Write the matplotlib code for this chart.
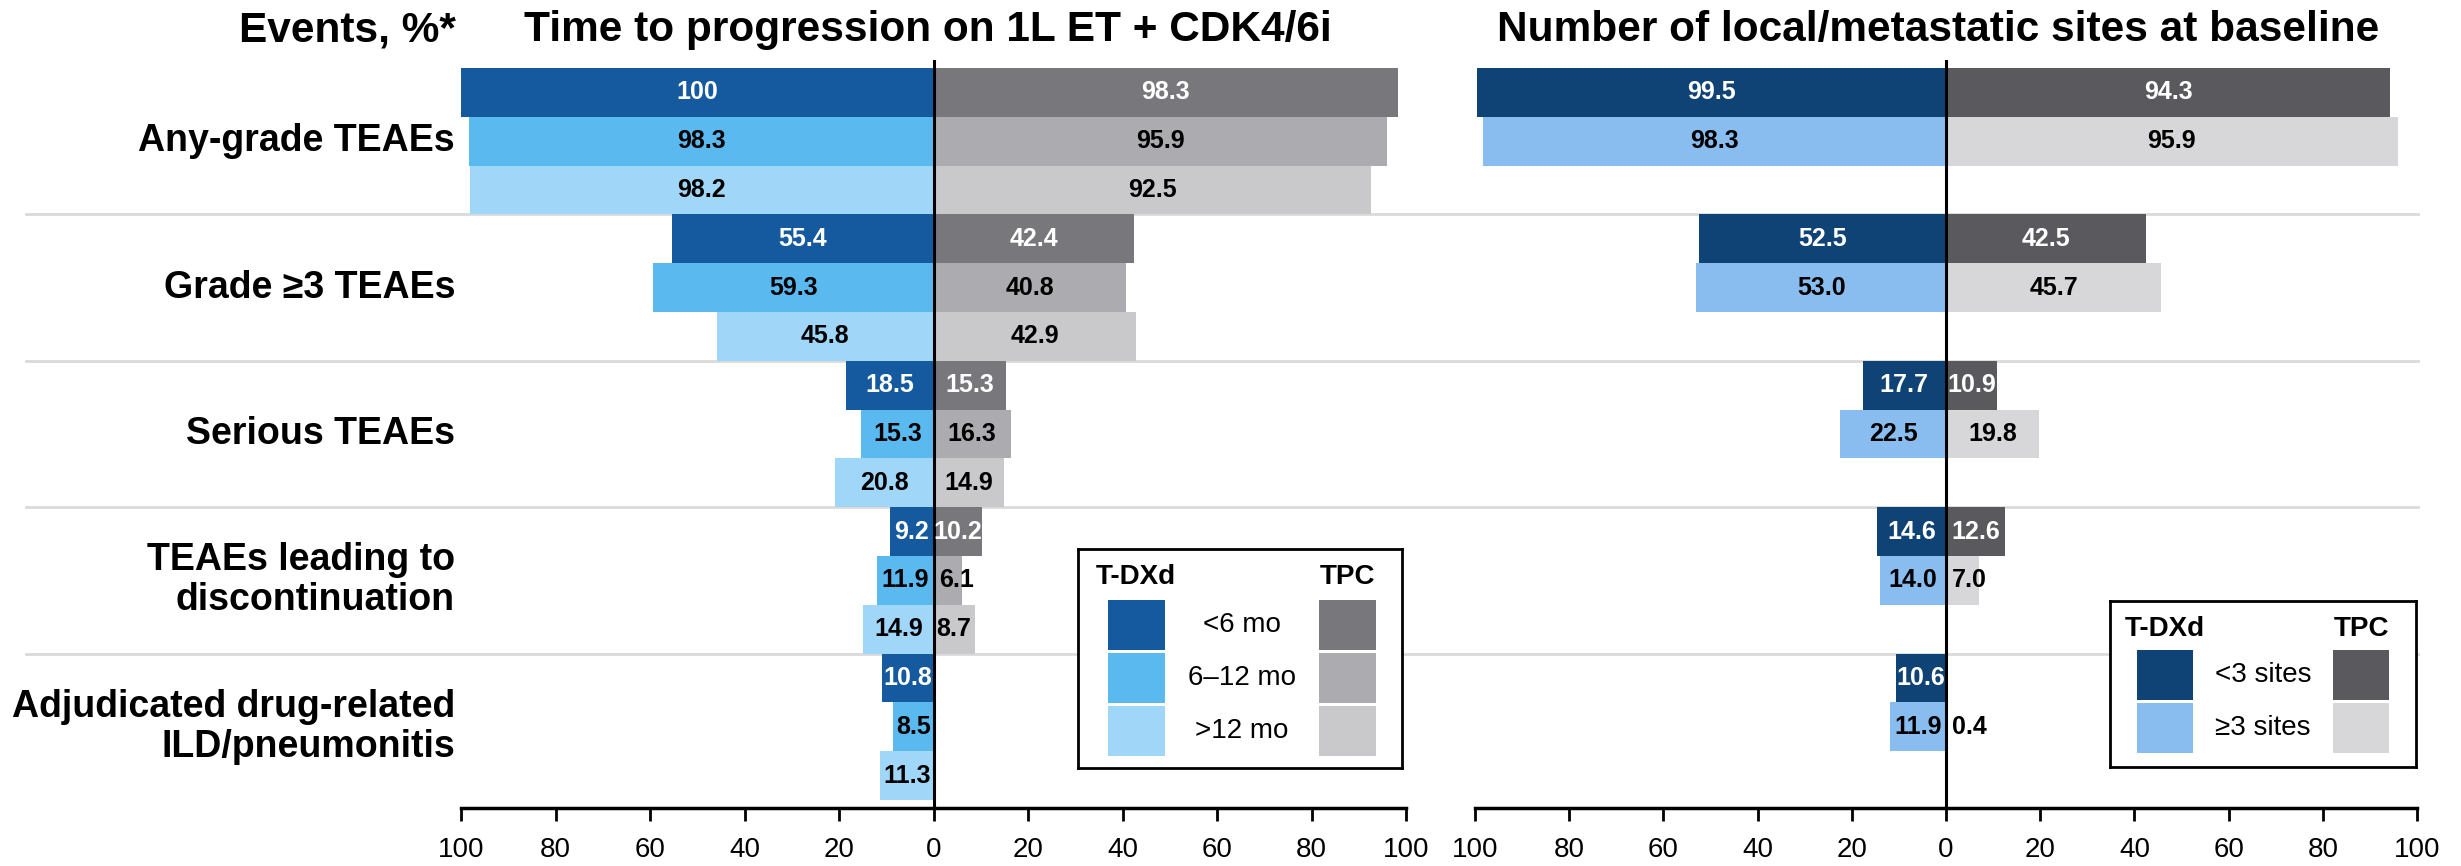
import numpy as np
import matplotlib
matplotlib.use("Agg")
import matplotlib.pyplot as plt
from matplotlib.patches import Rectangle
from matplotlib.lines import Line2D
import matplotlib.transforms as mtransforms

plt.rcParams['font.family'] = ['Liberation Sans', 'DejaVu Sans']

# ---------------- data ----------------
categories = ["Any-grade TEAEs", "Grade \u22653 TEAEs", "Serious TEAEs",
              "TEAEs leading to\ndiscontinuation",
              "Adjudicated drug-related\nILD/pneumonitis"]

# Left panel: time to progression on 1L ET + CDK4/6i  (<6 mo, 6-12 mo, >12 mo)
ttp_tdxd = [[100, 98.3, 98.2],
            [55.4, 59.3, 45.8],
            [18.5, 15.3, 20.8],
            [9.2, 11.9, 14.9],
            [10.8, 8.5, 11.3]]
ttp_tpc = [[98.3, 95.9, 92.5],
           [42.4, 40.8, 42.9],
           [15.3, 16.3, 14.9],
           [10.2, 6.1, 8.7],
           [np.nan, np.nan, np.nan]]
ttp_labels = ["<6 mo", "6\u201312 mo", ">12 mo"]

# Right panel: number of local/metastatic sites at baseline (<3, >=3)
sites_tdxd = [[99.5, 98.3],
              [52.5, 53.0],
              [17.7, 22.5],
              [14.6, 14.0],
              [10.6, 11.9]]
sites_tpc = [[94.3, 95.9],
             [42.5, 45.7],
             [10.9, 19.8],
             [12.6, 7.0],
             [np.nan, 0.4]]
sites_labels = ["<3 sites", "\u22653 sites"]

ticks = [-100, -80, -60, -40, -20, 0, 20, 40, 60, 80, 100]

# ---------------- styling ----------------
ttp_tdxd_colors = ["#155A9F", "#5ABAF0", "#A0D6F7"]
ttp_tpc_colors = ["#78777C", "#ACABB0", "#C9C9CB"]
sites_tdxd_colors = ["#0F4275", "#8ABDEF"]
sites_tpc_colors = ["#5A595E", "#D7D7D9"]

W, H = 2461, 866
fig = plt.figure(figsize=(W / 100, H / 100), dpi=100)


def fx(x):
    return x / W


def fy(y):
    return 1 - y / H


ROW_TOP = 68.0
ROW_H = 48.8
AX_TOP = 60.0
AX_BOT = 808.0
ylim_top = -(ROW_TOP - AX_TOP) / ROW_H
ylim_bot = 15 + (AX_BOT - (ROW_TOP + 15 * ROW_H)) / ROW_H

VAL_FS = 18


def make_axes(x0, x1):
    ax = fig.add_axes([fx(x0), fy(AX_BOT), fx(x1 - x0), (AX_BOT - AX_TOP) / H])
    ax.set_facecolor("none")
    ax.set_xlim(-100, 100)
    ax.set_ylim(ylim_bot, ylim_top)
    for s in ["left", "right", "top"]:
        ax.spines[s].set_visible(False)
    ax.spines["bottom"].set_linewidth(2.5)
    ax.spines["bottom"].set_color("black")
    ax.set_yticks([])
    ax.set_xticks(ticks)
    ax.set_xticklabels([str(abs(t)) for t in ticks])
    ax.tick_params(axis="x", length=9, width=2, pad=12, labelsize=20, colors="black")
    ax.axvline(0, color="black", lw=2.2, zorder=5)
    return ax


def fmt(v):
    return "100" if v == 100 else f"{v:.1f}"


def draw_panel(ax, tdxd, tpc, c_tdxd, c_tpc):
    for g in range(len(tdxd)):
        for k in range(len(tdxd[g])):
            y = 3 * g + k + 0.5
            tc = "white" if k == 0 else "black"
            v = tdxd[g][k]
            if not np.isnan(v):
                ax.barh(y, -v, height=1.0, color=c_tdxd[k], edgecolor="none", zorder=2)
                if v >= 8:
                    ax.text(-v / 2, y, fmt(v), ha="center", va="center",
                            fontsize=VAL_FS, fontweight="bold", color=tc, zorder=6)
                else:
                    ax.annotate(fmt(v), (0, y), xytext=(-6, 0), textcoords="offset pixels",
                                ha="right", va="center", fontsize=VAL_FS, fontweight="bold",
                                color=tc, zorder=6)
            w = tpc[g][k]
            if not np.isnan(w):
                ax.barh(y, w, height=1.0, color=c_tpc[k], edgecolor="none", zorder=2)
                if w >= 8:
                    ax.text(w / 2, y, fmt(w), ha="center", va="center",
                            fontsize=VAL_FS, fontweight="bold", color=tc, zorder=6)
                else:
                    ax.annotate(fmt(w), (0, y), xytext=(6, 0), textcoords="offset pixels",
                                ha="left", va="center", fontsize=VAL_FS, fontweight="bold",
                                color=tc, zorder=6)


axL = make_axes(461, 1406)
axR = make_axes(1475, 2417)
draw_panel(axL, ttp_tdxd, ttp_tpc, ttp_tdxd_colors, ttp_tpc_colors)
draw_panel(axR, sites_tdxd, sites_tpc, sites_tdxd_colors, sites_tpc_colors)

blend = mtransforms.blended_transform_factory(fig.transFigure, axL.transData)

# separators
for r in [3, 6, 9, 12]:
    fig.add_artist(Line2D([fx(26), fx(2418)], [r, r], transform=blend,
                          color="#DADADA", lw=2, zorder=-1))

# category labels
for g, cat in enumerate(categories):
    axL.text(fx(455), 3 * g + 1.5, cat, transform=blend,
             ha="right", va="center", fontsize=27, fontweight="bold", linespacing=1.15)

# titles
TITLE_FS = 30.5
fig.text(fx(456), fy(41), "Events, %*", ha="right", va="baseline", fontsize=TITLE_FS, fontweight="bold")
fig.text(fx(928), fy(41), "Time to progression on 1L ET + CDK4/6i", ha="center", va="baseline",
         fontsize=TITLE_FS, fontweight="bold")
fig.text(fx(1938), fy(41), "Number of local/metastatic sites at baseline", ha="center", va="baseline",
         fontsize=TITLE_FS, fontweight="bold")


# legends
def legend_box(x0, y0, x1, y1, labels, c_tdxd, c_tpc, hx, lx, tx, sq_w, sq_top, sq_h, gap):
    lax = fig.add_axes([fx(x0), fy(y1), fx(x1 - x0), (y1 - y0) / H], zorder=10)
    lax.set_xlim(0, x1 - x0)
    lax.set_ylim(y1 - y0, 0)
    lax.set_xticks([])
    lax.set_yticks([])
    lax.set_facecolor("white")
    for s in lax.spines.values():
        s.set_linewidth(2)
        s.set_color("black")
    lax.text(hx, 28, "T-DXd", ha="center", va="center", fontsize=20, fontweight="bold")
    lax.text(tx + sq_w / 2, 28, "TPC", ha="center", va="center", fontsize=20, fontweight="bold")
    for i, lab in enumerate(labels):
        top = sq_top + i * (sq_h + gap)
        lax.add_patch(Rectangle((hx - sq_w / 2, top), sq_w, sq_h, facecolor=c_tdxd[i], edgecolor="none"))
        lax.add_patch(Rectangle((tx, top), sq_w, sq_h, facecolor=c_tpc[i], edgecolor="none"))
        lax.text(lx, top + sq_h / 2, lab, ha="center", va="center", fontsize=20)


legend_box(1078, 549, 1402, 768, ttp_labels, ttp_tdxd_colors, ttp_tpc_colors,
           hx=58, lx=164, tx=241, sq_w=57, sq_top=51, sq_h=50, gap=3)
legend_box(2110, 601, 2416, 767, sites_labels, sites_tdxd_colors, sites_tpc_colors,
           hx=55, lx=153, tx=223, sq_w=56, sq_top=49, sq_h=50, gap=3)

fig.savefig("out.png", dpi=100)
